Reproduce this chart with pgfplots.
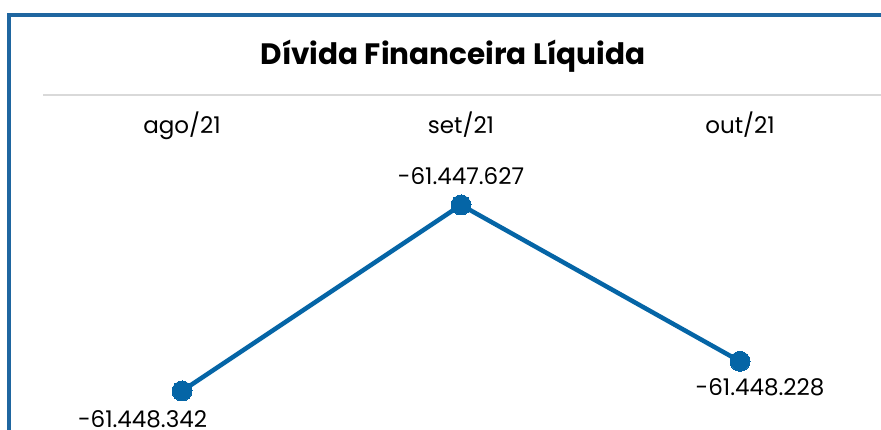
\documentclass[border=0pt]{standalone}
\usepackage{fontspec}
\setmainfont{Poppins}
\usepackage{pgfplots}
\pgfplotsset{compat=1.18}
\definecolor{lineblue}{HTML}{0565A6}
\definecolor{frameblue}{HTML}{1F66A0}
\definecolor{sepgray}{HTML}{D9D9D9}
\begin{document}
\begin{tikzpicture}[x=1pt,y=1pt]
\useasboundingbox (0,0) rectangle (881,430);
\draw[frameblue, line width=3.5pt] (9,-5) -- (9,415) -- (890,415);
\draw[sepgray, line width=1.5pt] (43,335) -- (881,335);
\node[anchor=base, font=\fontsize{29.5}{34}\selectfont\bfseries] at (453,365) {Dívida Financeira Líquida};
\begin{axis}[
  at={(182pt,39pt)}, anchor=south west,
  scale only axis, width=558pt, height=186pt,
  xmin=0, xmax=2, ymin=-61448342, ymax=-61447627,
  clip=false,
  axis line style={draw=none},
  major tick length=0pt,
  ytick=\empty,
  xtick={0,1,2},
  xticklabels={ago/21,set/21,out/21},
  xticklabel pos=upper,
  xticklabel style={anchor=base, yshift=71.5pt, font=\fontsize{23}{27}\selectfont},
]
\addplot[lineblue, line width=4.5pt, mark=*, mark size=10pt, mark options={fill=lineblue, draw=lineblue, line width=0pt}]
  coordinates {(0,-61448342) (1,-61447627) (2,-61448228)};
\node[anchor=base, font=\fontsize{23}{27}\selectfont] at ([shift={(-39.5pt,-37pt)}]axis cs:0,-61448342) {-61.448.342};
\node[anchor=base, font=\fontsize{23}{27}\selectfont] at ([shift={(0pt,20pt)}]axis cs:1,-61447627) {-61.447.627};
\node[anchor=base, font=\fontsize{23}{27}\selectfont] at ([shift={(20pt,-34pt)}]axis cs:2,-61448228) {-61.448.228};
\end{axis}
\end{tikzpicture}
\end{document}
